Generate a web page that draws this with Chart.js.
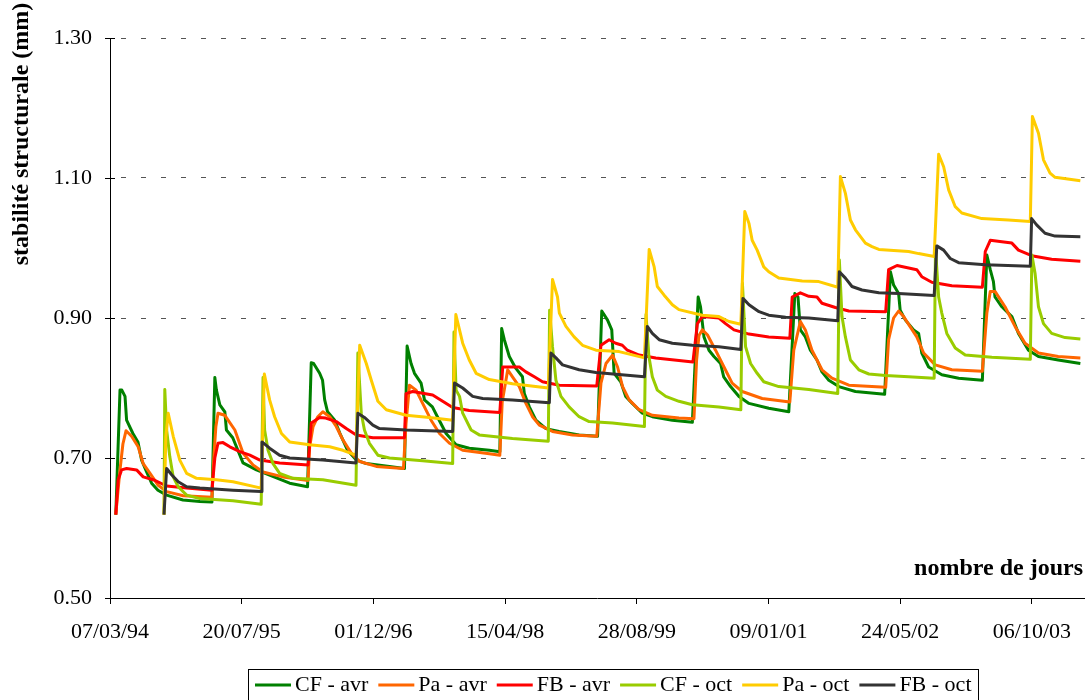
<!DOCTYPE html>
<html>
<head>
<meta charset="utf-8">
<script src="https://cdn.jsdelivr.net/npm/chart.js@4"></script>
<style>
  body { margin: 0; background: #fff; }
</style>
</head>
<body>
<canvas id="myChart" width="1086" height="700"></canvas>
<script>
  // jours depuis le 07/03/94, stabilité structurale (mm)
  const cfAvr = [[22,0.619],[38,0.797],[45,0.797],[57,0.788],[63,0.754],[87,0.735],[106,0.723],[120,0.697],[139,0.680],[158,0.664],[182,0.654],[215,0.647],[277,0.640],[341,0.638],[387,0.637],[398,0.815],[404,0.797],[417,0.776],[436,0.766],[442,0.740],[466,0.729],[480,0.716],[505,0.693],[556,0.683],[682,0.664],[750,0.659],[764,0.836],[773,0.835],[796,0.821],[807,0.811],[815,0.783],[826,0.766],[853,0.754],[872,0.736],[902,0.711],[935,0.697],[973,0.692],[1061,0.688],[1118,0.685],[1128,0.860],[1143,0.835],[1156,0.821],[1181,0.807],[1194,0.783],[1224,0.773],[1243,0.759],[1276,0.735],[1314,0.719],[1364,0.714],[1440,0.711],[1480,0.709],[1487,0.885],[1497,0.869],[1516,0.845],[1541,0.828],[1566,0.816],[1573,0.792],[1592,0.773],[1617,0.754],[1655,0.742],[1705,0.738],[1781,0.733],[1851,0.731],[1867,0.910],[1889,0.897],[1905,0.883],[1914,0.821],[1939,0.809],[1958,0.788],[1983,0.778],[2021,0.764],[2059,0.759],[2135,0.754],[2211,0.751],[2233,0.930],[2242,0.916],[2255,0.873],[2274,0.854],[2293,0.845],[2318,0.835],[2330,0.816],[2356,0.802],[2388,0.788],[2426,0.778],[2501,0.771],[2577,0.766],[2600,0.935],[2612,0.930],[2621,0.883],[2640,0.873],[2659,0.854],[2684,0.840],[2703,0.823],[2729,0.811],[2767,0.802],[2830,0.795],[2941,0.791],[2963,0.966],[2975,0.947],[2994,0.935],[3000,0.911],[3020,0.897],[3051,0.883],[3070,0.878],[3082,0.850],[3108,0.830],[3158,0.819],[3222,0.814],[3312,0.811],[3329,0.990],[3342,0.969],[3354,0.952],[3360,0.930],[3386,0.916],[3424,0.902],[3449,0.878],[3487,0.854],[3525,0.845],[3600,0.840],[3684,0.835]];
  const paAvr = [[22,0.619],[32,0.660],[38,0.683],[49,0.720],[61,0.739],[82,0.731],[107,0.716],[126,0.692],[152,0.678],[183,0.661],[215,0.652],[278,0.646],[387,0.644],[394,0.700],[402,0.745],[410,0.764],[436,0.761],[474,0.740],[505,0.707],[543,0.690],[581,0.680],[657,0.673],[752,0.668],[758,0.716],[771,0.745],[789,0.759],[808,0.766],[834,0.759],[859,0.745],[884,0.726],[916,0.707],[948,0.695],[1011,0.688],[1114,0.685],[1124,0.750],[1137,0.804],[1162,0.797],[1187,0.778],[1219,0.754],[1251,0.735],[1289,0.721],[1339,0.711],[1440,0.706],[1480,0.704],[1489,0.780],[1510,0.826],[1528,0.816],[1554,0.802],[1579,0.778],[1604,0.759],[1630,0.747],[1680,0.738],[1756,0.733],[1848,0.731],[1864,0.807],[1883,0.835],[1908,0.847],[1927,0.830],[1946,0.802],[1971,0.783],[2009,0.769],[2059,0.761],[2160,0.757],[2217,0.756],[2227,0.840],[2236,0.875],[2249,0.883],[2268,0.876],[2299,0.854],[2331,0.830],[2362,0.807],[2400,0.795],[2476,0.785],[2581,0.780],[2596,0.854],[2621,0.895],[2640,0.883],[2665,0.854],[2703,0.826],[2741,0.814],[2805,0.804],[2945,0.801],[2956,0.869],[2975,0.900],[2994,0.910],[3013,0.902],[3063,0.873],[3089,0.850],[3133,0.833],[3196,0.826],[3312,0.824],[3329,0.907],[3342,0.938],[3360,0.938],[3398,0.916],[3436,0.888],[3474,0.864],[3525,0.850],[3600,0.845],[3684,0.843]];
  const fbAvr = [[22,0.619],[31,0.669],[44,0.683],[63,0.685],[101,0.683],[126,0.673],[164,0.669],[215,0.660],[291,0.657],[387,0.654],[398,0.700],[410,0.721],[429,0.722],[455,0.716],[493,0.709],[531,0.704],[569,0.697],[644,0.693],[752,0.690],[764,0.750],[796,0.758],[819,0.757],[859,0.752],[897,0.742],[935,0.733],[998,0.729],[1118,0.729],[1124,0.792],[1149,0.795],[1225,0.790],[1263,0.781],[1301,0.772],[1364,0.768],[1480,0.765],[1491,0.830],[1554,0.830],[1579,0.823],[1611,0.816],[1642,0.809],[1706,0.804],[1848,0.803],[1864,0.861],[1895,0.869],[1920,0.864],[1945,0.861],[1964,0.854],[2009,0.847],[2072,0.843],[2213,0.837],[2230,0.892],[2249,0.902],[2312,0.900],[2337,0.892],[2369,0.883],[2426,0.877],[2501,0.873],[2581,0.871],[2590,0.930],[2621,0.936],[2653,0.931],[2684,0.930],[2703,0.921],[2754,0.915],[2805,0.910],[2945,0.909],[2956,0.969],[2988,0.975],[3063,0.969],[3082,0.959],[3120,0.951],[3196,0.946],[3312,0.944],[3323,0.995],[3342,1.011],[3386,1.009],[3424,1.007],[3449,0.997],[3499,0.989],[3575,0.984],[3684,0.981]];
  const cfOct = [[205,0.619],[208,0.798],[215,0.740],[227,0.702],[240,0.673],[259,0.659],[291,0.647],[341,0.642],[467,0.639],[574,0.634],[581,0.815],[587,0.740],[600,0.711],[619,0.692],[644,0.678],[695,0.671],[808,0.669],[934,0.661],[941,0.850],[954,0.764],[966,0.740],[985,0.721],[1017,0.704],[1061,0.700],[1187,0.696],[1301,0.692],[1306,0.880],[1314,0.797],[1327,0.788],[1339,0.764],[1371,0.740],[1402,0.733],[1528,0.728],[1664,0.724],[1669,0.911],[1680,0.859],[1693,0.811],[1712,0.788],[1743,0.773],[1781,0.759],[1819,0.752],[1908,0.750],[2029,0.745],[2035,0.905],[2046,0.845],[2059,0.816],[2078,0.797],[2110,0.788],[2160,0.781],[2211,0.776],[2312,0.773],[2395,0.769],[2401,0.950],[2413,0.859],[2432,0.835],[2457,0.821],[2482,0.809],[2539,0.802],[2653,0.798],[2763,0.792],[2769,0.983],[2779,0.902],[2792,0.873],[2811,0.840],[2843,0.826],[2881,0.820],[2944,0.818],[3032,0.816],[3129,0.814],[3134,1.000],[3146,0.930],[3158,0.907],[3177,0.878],[3209,0.857],[3247,0.847],[3348,0.844],[3494,0.841],[3500,0.990],[3512,0.964],[3525,0.916],[3544,0.892],[3575,0.878],[3626,0.872],[3684,0.870]];
  const paOct = [[205,0.619],[212,0.730],[221,0.764],[240,0.731],[265,0.697],[291,0.678],[329,0.671],[404,0.669],[467,0.666],[574,0.657],[586,0.820],[606,0.783],[625,0.759],[651,0.735],[682,0.723],[758,0.719],[834,0.716],[884,0.711],[934,0.704],[948,0.861],[973,0.835],[992,0.811],[1017,0.781],[1049,0.769],[1124,0.761],[1213,0.758],[1301,0.754],[1313,0.905],[1339,0.864],[1364,0.840],[1390,0.821],[1440,0.812],[1528,0.806],[1664,0.800],[1680,0.955],[1699,0.930],[1706,0.907],[1731,0.888],[1762,0.873],[1794,0.861],[1845,0.854],[1933,0.852],[2029,0.843],[2047,0.998],[2066,0.973],[2078,0.945],[2103,0.933],[2135,0.919],[2160,0.912],[2249,0.904],[2312,0.902],[2350,0.895],[2395,0.891],[2410,1.052],[2426,1.035],[2438,1.011],[2457,0.997],[2482,0.973],[2501,0.966],[2539,0.957],[2628,0.953],[2691,0.952],[2763,0.944],[2773,1.102],[2792,1.078],[2811,1.040],[2830,1.026],[2868,1.007],[2893,1.002],[2919,0.998],[3032,0.995],[3070,0.992],[3129,0.988],[3146,1.134],[3165,1.116],[3184,1.083],[3209,1.059],[3234,1.050],[3310,1.042],[3411,1.040],[3494,1.038],[3502,1.188],[3525,1.164],[3544,1.126],[3569,1.107],[3588,1.101],[3684,1.096]];
  const fbOct = [[205,0.619],[215,0.685],[234,0.676],[259,0.666],[291,0.659],[341,0.657],[467,0.654],[574,0.652],[577,0.723],[606,0.714],[644,0.704],[682,0.700],[808,0.697],[934,0.693],[941,0.764],[966,0.758],[998,0.747],[1023,0.742],[1124,0.740],[1301,0.738],[1308,0.807],[1339,0.800],[1377,0.788],[1415,0.785],[1528,0.783],[1668,0.779],[1674,0.850],[1693,0.843],[1718,0.833],[1781,0.826],[1845,0.822],[2029,0.816],[2040,0.888],[2059,0.878],[2085,0.869],[2135,0.864],[2211,0.861],[2312,0.859],[2395,0.855],[2403,0.928],[2426,0.919],[2464,0.909],[2501,0.904],[2565,0.901],[2653,0.900],[2763,0.896],[2769,0.966],[2792,0.957],[2817,0.945],[2855,0.940],[2919,0.936],[2994,0.935],[3129,0.932],[3139,1.003],[3165,0.997],[3190,0.985],[3222,0.979],[3323,0.976],[3494,0.974],[3499,1.042],[3518,1.033],[3550,1.021],[3588,1.017],[3684,1.016]];

  const series = ['CF - avr', 'Pa - avr', 'FB - avr', 'CF - oct', 'Pa - oct', 'FB - oct'];
  const couleurs = ['#008000', '#FF6600', '#FF0000', '#99CC00', '#FFCC00', '#333333'];
  const valeurs = [cfAvr, paAvr, fbAvr, cfOct, paOct, fbOct];

  const joursTicks = [0, 500, 1000, 1500, 2000, 2500, 3000, 3500];
  const etiquettesX = ['07/03/94', '20/07/95', '01/12/96', '15/04/98', '28/08/99', '09/01/01', '24/05/02', '06/10/03'];

  const police = 'Liberation Serif, Times New Roman, serif';

  // titres d'axes, graduations de l'axe y et légende encadrée
  const habillage = {
    id: 'habillage',
    afterDraw(chart) {
      const ctx = chart.ctx;
      const y = chart.scales.y;
      const gauche = chart.chartArea.left;
      ctx.save();
      ctx.strokeStyle = '#000';
      ctx.lineWidth = 1;
      y.ticks.forEach(t => {
        const py = Math.round(y.getPixelForValue(t.value)) + 0.5;
        ctx.beginPath();
        ctx.moveTo(gauche - 5, py);
        ctx.lineTo(gauche + 5, py);
        ctx.stroke();
      });

      ctx.fillStyle = '#000';
      ctx.font = 'bold 24px ' + police;
      ctx.textAlign = 'right';
      ctx.textBaseline = 'alphabetic';
      ctx.fillText('nombre de jours', 1083, 575);

      ctx.translate(22, 134);
      ctx.rotate(-Math.PI / 2);
      ctx.textAlign = 'center';
      ctx.textBaseline = 'middle';
      ctx.fillText('stabilité structurale (mm)', 0, 0);
      ctx.restore();

      ctx.save();
      ctx.strokeStyle = '#000';
      ctx.lineWidth = 1;
      ctx.strokeRect(248.5, 669.5, 730, 40);
      ctx.font = '22px ' + police;
      ctx.textBaseline = 'middle';
      ctx.textAlign = 'left';
      let x = 255;
      const yl = 685;
      chart.data.datasets.forEach(ds => {
        ctx.strokeStyle = ds.borderColor;
        ctx.lineWidth = 3;
        ctx.beginPath();
        ctx.moveTo(x, yl);
        ctx.lineTo(x + 36, yl);
        ctx.stroke();
        ctx.fillStyle = '#000';
        ctx.fillText(ds.label, x + 40, yl);
        x += 40 + ctx.measureText(ds.label).width + 10;
      });
      ctx.restore();
    }
  };

  const data = {
    datasets: series.map((nom, i) => ({
      label: nom,
      data: valeurs[i].map(p => ({x: p[0], y: p[1]})),
      borderColor: couleurs[i],
      backgroundColor: couleurs[i],
      borderWidth: 3,
      borderJoinStyle: 'round',
      pointRadius: 0,
      showLine: true,
      tension: 0,
      order: series.length - i
    }))
  };

  const config = {
    type: 'scatter',
    data: data,
    options: {
      responsive: false,
      animation: false,
      devicePixelRatio: 1,
      layout: { padding: { top: 38, right: 0, bottom: 52, left: 0 } },
      plugins: { legend: { display: false }, tooltip: { enabled: false } },
      scales: {
        x: {
          type: 'linear',
          min: 0,
          max: 3700,
          afterFit: s => { s.height = 50; },
          afterBuildTicks: s => { s.ticks = joursTicks.map(v => ({value: v})); },
          ticks: {
            autoSkip: false,
            maxRotation: 0,
            padding: 15,
            color: '#000',
            font: { family: police, size: 22 },
            callback: v => etiquettesX[joursTicks.indexOf(v)] || ''
          },
          grid: { drawOnChartArea: false, drawTicks: true, tickLength: 6, tickColor: '#000' },
          border: { display: true, color: '#000', width: 1 }
        },
        y: {
          min: 0.5,
          max: 1.3,
          afterFit: s => { s.width = 110; },
          ticks: {
            stepSize: 0.2,
            padding: 18,
            color: '#000',
            font: { family: police, size: 22 },
            callback: v => v.toFixed(2)
          },
          grid: {
            drawTicks: false,
            lineWidth: 1,
            color: c => (c.tick && c.tick.value < 0.6) ? 'rgba(0,0,0,0)' : '#555555'
          },
          border: { display: true, color: '#000', width: 1, dash: [5, 15], dashOffset: 10 }
        }
      }
    },
    plugins: [habillage]
  };

  const myChart = new Chart(document.getElementById('myChart'), config);
</script>
</body>
</html>
